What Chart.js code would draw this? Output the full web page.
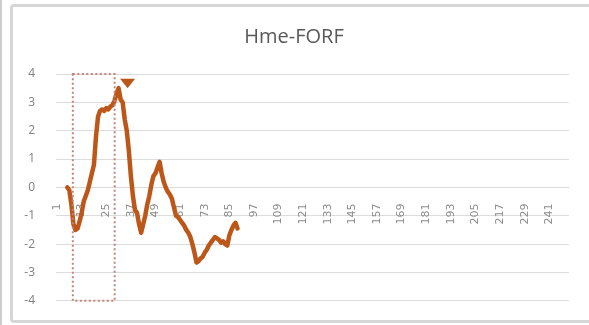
<!DOCTYPE html>
<html lang="en">
<head>
  <meta charset="UTF-8">
  <title>Hme-FORF</title>
  <script src="https://cdn.jsdelivr.net/npm/chart.js"></script>
  <style>
    html, body { margin: 0; padding: 0; background: #fff; }
    #wrap { position: relative; width: 589px; height: 325px; overflow: hidden; }
    #edge { position: absolute; left: 0; top: 0; width: 2px; height: 325px; background: #cdcdcd; }
    #frame { position: absolute; left: 10px; top: 4px; width: 600px; height: 313px;
             border: 3px solid #d6d6d6; border-radius: 4px; }
    canvas { position: absolute; left: 0; top: 0; }
  </style>
</head>
<body>
  <div id="wrap">
    <div id="edge"></div>
    <div id="frame"></div>
    <!-- a little taller than the frame: the rotated x labels reserve room below the plot -->
    <canvas id="hmeChart" width="589" height="329"></canvas>
  </div>
  <script>
    // category axis runs 1..250, labelled every 12th
    const categories = Array.from({ length: 250 }, (_, i) => String(i + 1));
    const labelStep = 12;

    // Hme-FORF values (blank until the 6th period)
    const hmeForf = [
      null, null, null, null, null,
      0.0, -0.1, -0.6, -1.3, -1.5, -1.45, -1.2, -0.9, -0.5, -0.3,
      -0.1, 0.2, 0.5, 0.8, 1.8, 2.5, 2.7, 2.75, 2.7, 2.8,
      2.75, 2.85, 2.9, 3.05, 3.3, 3.5, 3.1, 3.0, 2.4, 2.0,
      1.3, 0.4, -0.3, -0.8, -0.9, -1.3, -1.6, -1.3, -1.0, -0.6,
      -0.3, 0.1, 0.4, 0.5, 0.7, 0.9, 0.5, 0.2, 0.0, -0.15,
      -0.25, -0.4, -0.7, -1.0, -1.05, -1.15, -1.25, -1.35, -1.5, -1.6,
      -1.75, -2.0, -2.3, -2.65, -2.6, -2.5, -2.45, -2.3, -2.2, -2.05,
      -1.95, -1.85, -1.75, -1.8, -1.85, -1.95, -1.9, -2.0, -2.05, -1.7,
      -1.5, -1.35, -1.25, -1.45
    ];

    const yTicks = [-4, -3, -2, -1, 0, 1, 2, 3, 4];

    // highlighted window (category index range, value range) and the marker above it
    const boxFrom = 7.7, boxTo = 28.1, boxLow = -4, boxHigh = 4;
    const markerAt = 34.4, markerValue = 3.67;

    const lineColor = '#bd5719';

    const overlay = {
      id: 'overlay',
      afterDatasetsDraw(chart) {
        const { ctx, scales: { x, y } } = chart;
        ctx.save();
        // dotted window
        ctx.strokeStyle = '#c4847c';
        ctx.lineWidth = 2;
        ctx.setLineDash([2, 2.5]);
        const x0 = x.getPixelForValue(boxFrom), x1 = x.getPixelForValue(boxTo);
        const y0 = y.getPixelForValue(boxHigh), y1 = y.getPixelForValue(boxLow);
        ctx.strokeRect(x0, y0, x1 - x0, y1 - y0);
        // down-pointing marker
        ctx.setLineDash([]);
        const mx = x.getPixelForValue(markerAt), my = y.getPixelForValue(markerValue);
        ctx.fillStyle = lineColor;
        ctx.beginPath();
        ctx.moveTo(mx - 7.5, my - 4.5);
        ctx.lineTo(mx + 7.5, my - 4.5);
        ctx.lineTo(mx, my + 5);
        ctx.closePath();
        ctx.fill();
        ctx.restore();
      }
    };

    new Chart(document.getElementById('hmeChart'), {
      type: 'line',
      data: {
        labels: categories,
        datasets: [{
          label: 'Hme-FORF',
          data: hmeForf,
          borderColor: lineColor,
          borderWidth: 4.5,
          borderJoinStyle: 'round',
          borderCapStyle: 'round',
          pointRadius: 0,
          tension: 0,
          spanGaps: false
        }]
      },
      options: {
        responsive: false,
        animation: false,
        layout: { padding: { left: 16, right: 17, top: 0, bottom: 25 } },
        plugins: {
          legend: { display: false },
          tooltip: { enabled: false },
          title: {
            display: true,
            text: 'Hme-FORF',
            color: '#595959',
            font: { family: 'Open Sans', size: 20, weight: 'normal' },
            padding: { top: 25, bottom: 25 }
          }
        },
        scales: {
          x: {
            type: 'category',
            position: { y: 0 },
            offset: true,
            grid: { display: false },
            border: { display: true, color: '#d9d9d9', width: 1 },
            ticks: {
              autoSkip: false,
              minRotation: 90,
              maxRotation: 90,
              padding: 8,
              color: '#8c8c8c',
              font: { family: 'DejaVu Sans', size: 11 },
              callback: (v, i) => (i % labelStep === 0 ? categories[i] : '')
            }
          },
          y: {
            min: -4,
            max: 4,
            afterFit: s => { s.width = 40; },
            afterBuildTicks: s => { s.ticks = yTicks.map(v => ({ value: v })); },
            grid: { color: '#dcdcdc', lineWidth: 1, drawTicks: false },
            border: { display: false },
            ticks: {
              padding: 21,
              color: '#808080',
              font: { family: 'Open Sans', size: 12 }
            }
          }
        }
      },
      plugins: [overlay]
    });
  </script>
</body>
</html>
